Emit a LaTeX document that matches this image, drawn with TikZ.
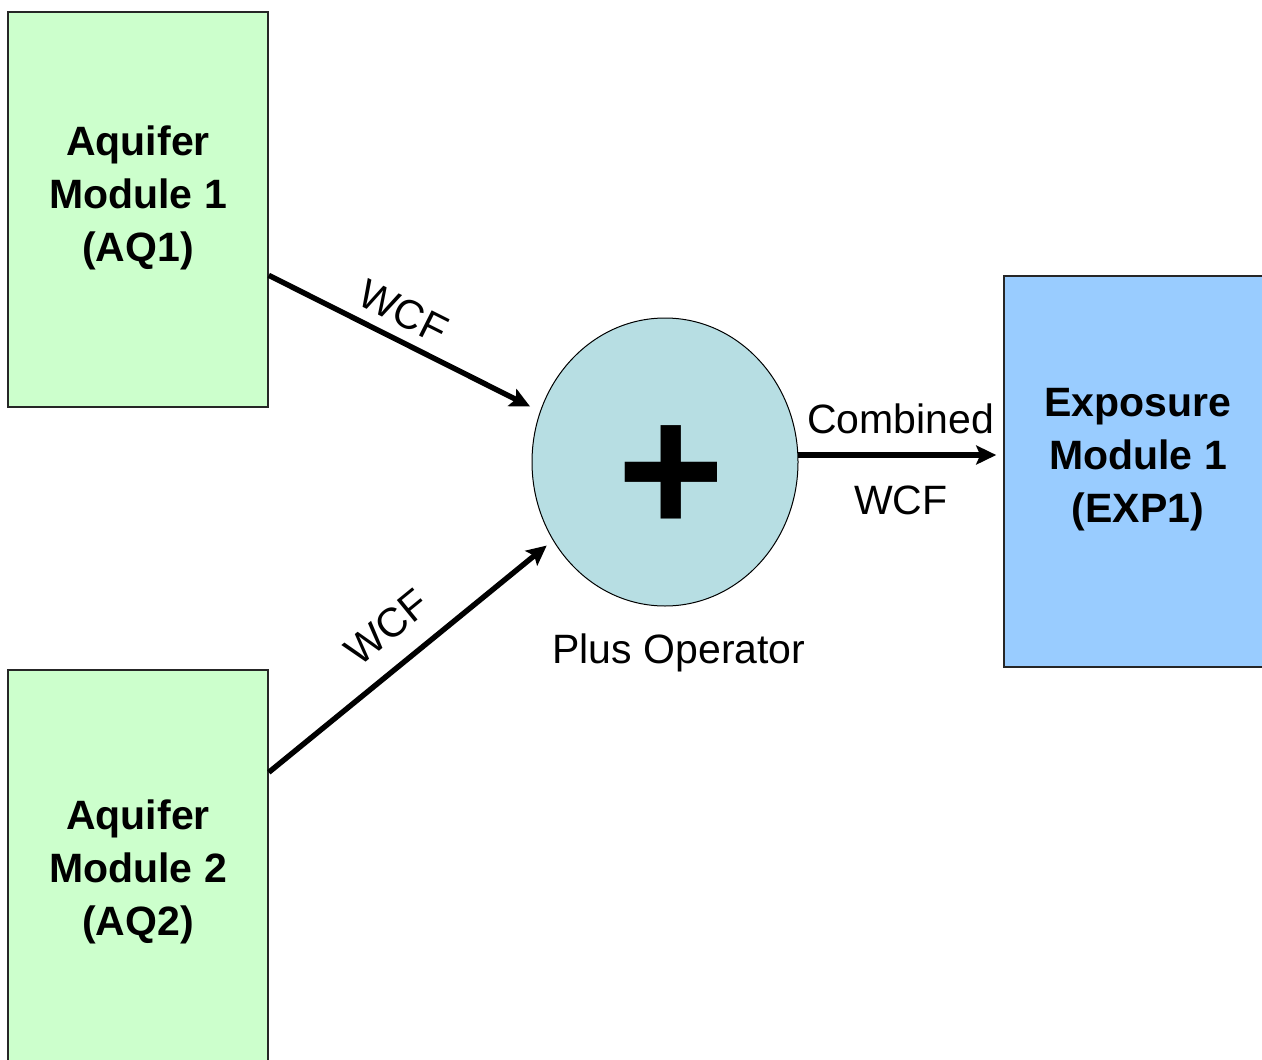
\documentclass[tikz,border=0pt]{standalone}
\usepackage{fontspec}
\setmainfont{Liberation Sans}
\usetikzlibrary{shapes,arrows,positioning,calc,arrows.meta}

\definecolor{aqgreen}{HTML}{CCFFCC}
\definecolor{expblue}{HTML}{99CCFF}
\definecolor{opcyan}{HTML}{B7DEE3}

\begin{document}
\begin{tikzpicture}[x=0.5pt, y=-0.5pt,
    module/.style={rectangle, draw=black!85, line width=0.8pt, inner sep=0pt, minimum width=130pt, minimum height=197.5pt},
    modtext/.style={align=center, font=\fontsize{20.5}{26.5}\selectfont\bfseries},
    operator/.style={ellipse, draw, line width=0.5pt, fill=opcyan, minimum width=133pt, minimum height=144pt, inner sep=0pt},
    lbl/.style={font=\fontsize{20.5}{24}\selectfont},
    arrow/.style={-{Stealth[length=10pt, width=9.5pt, inset=2pt]}, line width=2.7pt}
]
    \useasboundingbox (0,0) rectangle (1262,1059);
    \clip (0,0) rectangle (1262,1059);

    % Aquifer modules
    \node[module, fill=aqgreen] (aq1) at (138,209.5) {};
    \node[modtext] (aq1txt) at ([yshift=6pt]aq1.center) {Aquifer\\Module 1\\(AQ1)};
    \node[module, fill=aqgreen] (aq2) at (138,867.5) {};
    \node[modtext] (aq2txt) at ([yshift=-2pt]aq2.center) {Aquifer\\Module 2\\(AQ2)};

    % Plus operator
    \node[operator] (op) at (665,462) {};
    \node[font=\fontsize{92}{92}\selectfont\bfseries] (plus) at ([xshift=3pt, yshift=-9pt]op.center) {+};
    \node[lbl, below=10pt of op, xshift=7pt] (oplbl) {Plus Operator};

    % Exposure module
    \node[module, fill=expblue, minimum width=134pt, minimum height=195.5pt] (exp) at (1138,471.5) {};
    \node[modtext] (exptxt) at ([yshift=6pt]exp.center) {Exposure\\Module 1\\(EXP1)};

    % Flows
    \draw[arrow, shorten >=5.5pt] ($(aq1.north east)!0.666!(aq1.south east)$) -- (op.158)
        node[lbl, pos=0.45, sloped, above=2pt] (wcf1) {WCF};
    \draw[arrow, shorten >=4pt] ($(aq2.north east)!0.26!(aq2.south east)$) -- (op.215)
        node[lbl, midway, sloped, above=7pt] (wcf2) {WCF};
    \draw[arrow, shorten >=3.5pt] (op.3) -- (op.3 -| exp.west)
        node[lbl, midway, above=6pt] (comb) {Combined}
        node[lbl, midway, below=10.5pt] (wcf3) {WCF};
\end{tikzpicture}
\end{document}
